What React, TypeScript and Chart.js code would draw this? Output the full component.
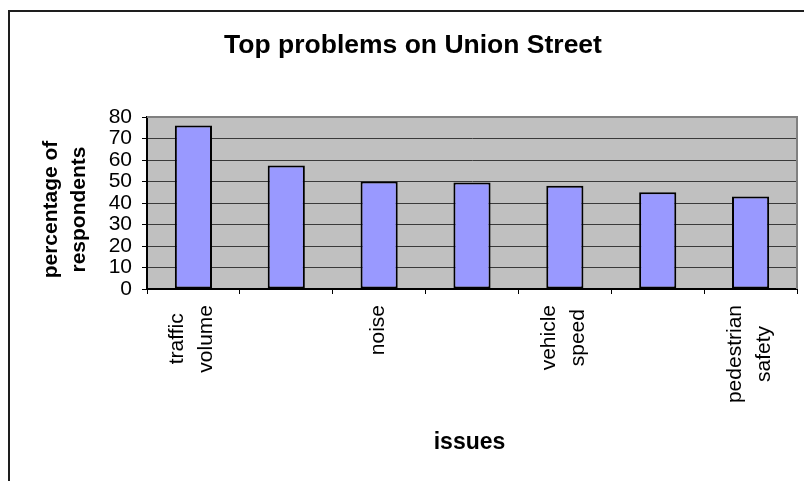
import React, { useEffect, useRef } from "react";
import { Chart, registerables } from "chart.js";

Chart.register(...registerables);

// ---- data ----
const TITLE = "Top problems on Union Street";
const X_TITLE = "issues";
const Y_TITLE = ["percentage of", "respondents"];
const CATEGORIES: string[][] = [
  ["traffic", "volume"],
  [""],
  ["noise"],
  [""],
  ["vehicle", "speed"],
  [""],
  ["pedestrian", "safety"],
];
const VALUES = [76, 57.5, 50, 49.5, 48, 45, 43];
const Y_MIN = 0;
const Y_MAX = 80;
const Y_STEP = 10;

const FONT = "'Liberation Sans', Arial, sans-serif";

const excelLook = {
  id: "excelLook",
  beforeDraw(chart: any) {
    const { ctx, chartArea: a } = chart;
    ctx.save();
    ctx.fillStyle = "#ffffff";
    ctx.fillRect(0, 0, chart.width, chart.height);
    ctx.fillStyle = "#c0c0c0";
    ctx.fillRect(a.left, a.top, a.right - a.left, a.bottom - a.top);
    ctx.restore();
  },
  afterDraw(chart: any) {
    const { ctx, chartArea: a, scales } = chart;
    const xs = scales.x;
    ctx.save();

    // plot-area border (top and right)
    ctx.strokeStyle = "#808080";
    ctx.lineWidth = 2;
    ctx.beginPath();
    ctx.moveTo(a.left, a.top);
    ctx.lineTo(a.right, a.top);
    ctx.lineTo(a.right, a.bottom);
    ctx.stroke();

    // chart frame
    ctx.fillStyle = "#1e1e1e";
    ctx.fillRect(8, 10, 2, chart.height - 10);
    ctx.fillRect(8, 10, chart.width - 8, 2);

    ctx.fillStyle = "#000000";

    // chart title
    ctx.font = `bold 26.5px ${FONT}`;
    ctx.textAlign = "center";
    ctx.textBaseline = "alphabetic";
    ctx.fillText(TITLE, 413, 53);

    // x axis title
    ctx.font = `bold 23px ${FONT}`;
    ctx.fillText(X_TITLE, 469.5, 449);

    // y axis title (rotated, two lines)
    ctx.font = `bold 21px ${FONT}`;
    const yc = (a.top + a.bottom) / 2 + 6.5;
    Y_TITLE.forEach((line, k) => {
      ctx.save();
      ctx.translate(57.3 + k * 27.6, yc);
      ctx.rotate(-Math.PI / 2);
      ctx.fillText(line, 0, 0);
      ctx.restore();
    });

    // category labels (rotated, lines centred on each other)
    ctx.font = `21px ${FONT}`;
    CATEGORIES.forEach((lines, i) => {
      const ls = lines.filter((l) => l.length > 0);
      if (!ls.length) return;
      const cx = xs.getPixelForValue(i);
      const maxW = Math.max(...ls.map((l) => ctx.measureText(l).width));
      const cy = a.bottom + 16 + maxW / 2;
      const n = ls.length;
      ls.forEach((line, k) => {
        ctx.save();
        ctx.translate(cx + 4.5 + (k - (n - 1) / 2) * 29, cy);
        ctx.rotate(-Math.PI / 2);
        ctx.fillText(line, 0, 0);
        ctx.restore();
      });
    });

    ctx.restore();
  },
};

export default function App() {
  const ref = useRef<HTMLCanvasElement | null>(null);

  useEffect(() => {
    if (!ref.current) return;
    const chart = new Chart(ref.current, {
      type: "bar",
      data: {
        labels: CATEGORIES.map((c) => c.join(" ")),
        datasets: [
          {
            data: VALUES,
            backgroundColor: "#9999ff",
            borderColor: "#000000",
            borderWidth: 2,
            borderSkipped: false,
            barPercentage: 0.4,
            categoryPercentage: 1,
          },
        ],
      },
      options: {
        responsive: false,
        animation: false,
        devicePixelRatio: 1,
        layout: { padding: { left: 10, top: 117, right: 7, bottom: 187 } },
        plugins: {
          legend: { display: false },
          tooltip: { enabled: false },
          title: { display: false },
        },
        scales: {
          x: {
            type: "category",
            offset: true,
            grid: {
              offset: true,
              drawOnChartArea: false,
              drawTicks: true,
              tickLength: 5,
              tickColor: "#000000",
            },
            border: { display: true, color: "#000000", width: 2 },
            ticks: { display: false },
            afterFit: (s: any) => {
              s.height = 5;
            },
          },
          y: {
            min: Y_MIN,
            max: Y_MAX,
            grid: {
              color: "#3a3a3a",
              lineWidth: 1,
              drawTicks: true,
              tickLength: 5,
              tickColor: "#000000",
            },
            border: { display: true, color: "#000000", width: 2 },
            ticks: {
              stepSize: Y_STEP,
              autoSkip: false,
              padding: 10,
              color: "#000000",
              font: { family: FONT, size: 21, lineHeight: 1 },
            },
            afterFit: (s: any) => {
              s.width = 137;
            },
          },
        },
      },
      plugins: [excelLook],
    });
    return () => chart.destroy();
  }, []);

  return (
    <div
      style={{
        position: "absolute",
        left: 0,
        top: 0,
        width: 804,
        height: 481,
        overflow: "hidden",
        background: "#fff",
      }}
    >
      <canvas ref={ref} width={804} height={481} style={{ display: "block" }} />
    </div>
  );
}
